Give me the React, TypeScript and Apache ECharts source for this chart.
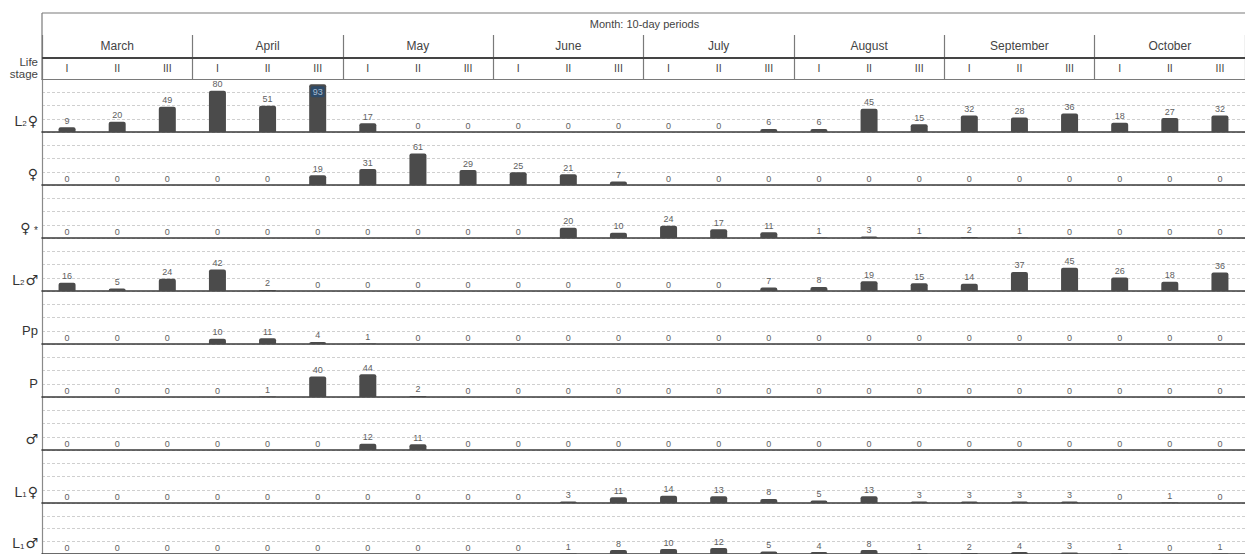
import React, { useEffect, useRef } from "react";
import * as echarts from "echarts";

const months = ["March", "April", "May", "June", "July", "August", "September", "October"];
const decades = ["I", "II", "III"];
const stageLabels = ["L₂♀", "♀", "♀ *", "L₂♂", "Pp", "P", "♂", "L₁♀", "L₁♂"];

const l2Female = [9, 20, 49, 80, 51, 93, 17, 0, 0, 0, 0, 0, 0, 0, 6, 6, 45, 15, 32, 28, 36, 18, 27, 32];
const female = [0, 0, 0, 0, 0, 19, 31, 61, 29, 25, 21, 7, 0, 0, 0, 0, 0, 0, 0, 0, 0, 0, 0, 0];
const femaleStar = [0, 0, 0, 0, 0, 0, 0, 0, 0, 0, 20, 10, 24, 17, 11, 1, 3, 1, 2, 1, 0, 0, 0, 0];
const l2Male = [16, 5, 24, 42, 2, 0, 0, 0, 0, 0, 0, 0, 0, 0, 7, 8, 19, 15, 14, 37, 45, 26, 18, 36];
const prepupa = [0, 0, 0, 10, 11, 4, 1, 0, 0, 0, 0, 0, 0, 0, 0, 0, 0, 0, 0, 0, 0, 0, 0, 0];
const pupa = [0, 0, 0, 0, 1, 40, 44, 2, 0, 0, 0, 0, 0, 0, 0, 0, 0, 0, 0, 0, 0, 0, 0, 0];
const male = [0, 0, 0, 0, 0, 0, 12, 11, 0, 0, 0, 0, 0, 0, 0, 0, 0, 0, 0, 0, 0, 0, 0, 0];
const l1Female = [0, 0, 0, 0, 0, 0, 0, 0, 0, 0, 3, 11, 14, 13, 8, 5, 13, 3, 3, 3, 3, 0, 1, 0];
const l1Male = [0, 0, 0, 0, 0, 0, 0, 0, 0, 0, 1, 8, 10, 12, 5, 4, 8, 1, 2, 4, 3, 1, 0, 1];

const rows = [l2Female, female, femaleStar, l2Male, prepupa, pupa, male, l1Female, l1Male];

const FONT = "'Liberation Sans', Arial, 'DejaVu Sans', sans-serif";

function toRich(label: string): string {
  return label
    .replace(" *", " {s|*}")
    .replace(/([♀♂])/g, "{g|$1}")
    .replace(/^L([₁₂])/, (_m, d) => "{a|L}{b|" + (d === "₁" ? "1" : "2") + "}");
}

export default function App() {
  const ref = useRef<HTMLDivElement>(null);

  useEffect(() => {
    if (!ref.current) return;
    const chart = echarts.init(ref.current, null, { renderer: "svg" });

    const LEFT = 42;
    const WIDTH = 1205;
    const HEADER_TOP = 35;
    const ROW_TOP = 79;
    const ROW_H = 53;
    const YMAX = 103;

    const cats: string[] = [];
    months.forEach((m) => decades.forEach((d) => cats.push(m + " " + d)));

    const grids: any[] = [];
    const xAxes: any[] = [];
    const yAxes: any[] = [];
    const series: any[] = [];

    rows.forEach((vals, i) => {
      grids.push({ left: LEFT, width: WIDTH, top: ROW_TOP + i * ROW_H, height: ROW_H });
      xAxes.push({
        type: "category",
        gridIndex: i,
        data: cats,
        position: "bottom",
        axisLine: { show: true, lineStyle: { color: "#3a3a3a", width: 1.6 } },
        axisTick: { show: false },
        axisLabel: { show: false },
        splitLine: { show: false },
      });
      const label = toRich(stageLabels[i]);
      yAxes.push({
        type: "value",
        gridIndex: i,
        min: 0,
        max: YMAX,
        interval: YMAX / 4,
        axisLine: { show: true, lineStyle: { color: "#8a8a8a", width: 1.2 } },
        axisTick: { show: false },
        axisLabel: {
          show: true,
          margin: 4,
          fontSize: 13,
          color: "#333",
          fontFamily: FONT,
          formatter: (v: number) => (v > 25 && v < 26 ? label : ""),
          rich: {
            a: { fontSize: 14, color: "#333", fontFamily: FONT, verticalAlign: "bottom", lineHeight: 18 },
            b: { fontSize: 8, color: "#333", fontFamily: FONT, verticalAlign: "bottom", lineHeight: 11, padding: [0, 1, 0, 0] },
            g: { fontSize: 14, color: "#333", fontFamily: "'DejaVu Sans', sans-serif", verticalAlign: "bottom", lineHeight: 18 },
            s: { fontSize: 10, color: "#333", fontFamily: FONT, verticalAlign: "bottom", lineHeight: 21 },
          },
        },
        splitLine: { show: true, lineStyle: { color: "#cfcfcf", type: [3, 2], width: 1 } },
      });
      series.push({
        type: "bar",
        xAxisIndex: i,
        yAxisIndex: i,
        barWidth: 17,
        data: vals.map((v) => {
          if (v > 85) {
            return {
              value: v,
              label: {
                position: "insideTop",
                distance: 2,
                backgroundColor: "#2d4a68",
                color: "#a8bdd3",
                padding: [1, 2],
                borderRadius: 2,
              },
            };
          }
          return v;
        }),
        itemStyle: { color: "#4b4b4b", borderRadius: [2, 2, 0, 0] },
        label: {
          show: true,
          position: "top",
          distance: 2,
          fontSize: 9,
          color: "#5e5e5e",
          fontFamily: FONT,
        },
        silent: true,
      });
    });

    // header grid
    const hi = rows.length;
    grids.push({ left: LEFT, width: WIDTH, top: HEADER_TOP, height: ROW_TOP - HEADER_TOP });
    xAxes.push({
      type: "category",
      gridIndex: hi,
      data: months,
      position: "top",
      axisLine: { show: true, lineStyle: { color: "#7a7a7a", width: 1.2 } },
      axisTick: { show: false },
      axisLabel: { show: true, inside: true, interval: 0, margin: 5, fontSize: 12, color: "#444", fontFamily: FONT },
      splitLine: { show: true, interval: 0, lineStyle: { color: "#7a7a7a", width: 1.2 } },
    });
    xAxes.push({
      type: "category",
      gridIndex: hi,
      data: cats,
      position: "bottom",
      axisLine: { show: true, lineStyle: { color: "#7a7a7a", width: 1.2 } },
      axisTick: { show: false },
      axisLabel: {
        show: true,
        inside: true,
        interval: 0,
        margin: 6,
        fontSize: 10.5,
        color: "#444",
        fontFamily: FONT,
        formatter: (v: string) => v.split(" ")[1],
      },
      splitLine: { show: false },
    });
    yAxes.push({ type: "value", gridIndex: hi, show: false, min: 0, max: 1 });

    const option: any = {
      animation: false,
      backgroundColor: "#ffffff",
      textStyle: { fontFamily: FONT },
      grid: grids,
      xAxis: xAxes,
      yAxis: yAxes,
      series,
      graphic: [
        { type: "line", shape: { x1: LEFT, y1: 13, x2: 1250, y2: 13 }, style: { stroke: "#7a7a7a", lineWidth: 1.2 }, z: 10 },
        { type: "line", shape: { x1: LEFT, y1: 13, x2: LEFT, y2: ROW_TOP }, style: { stroke: "#7a7a7a", lineWidth: 1.2 }, z: 10 },
        { type: "line", shape: { x1: LEFT, y1: 58, x2: 1250, y2: 58 }, style: { stroke: "#444", lineWidth: 1.8 }, z: 10 },
        {
          type: "text",
          x: LEFT + WIDTH / 2,
          y: 24,
          style: { text: "Month: 10-day periods", fontSize: 11, fill: "#444", align: "center", verticalAlign: "middle", fontFamily: FONT },
          z: 10,
        },
        {
          type: "text",
          x: 38,
          y: 68,
          style: {
            text: "Life\nstage",
            fontSize: 11.5,
            lineHeight: 12,
            fill: "#444",
            align: "right",
            verticalAlign: "middle",
            fontFamily: FONT,
          },
          z: 10,
        },
      ],
    };

    chart.setOption(option);
    return () => chart.dispose();
  }, []);

  return (
    <div
      ref={ref}
      style={{ position: "fixed", left: 0, top: 0, width: 1245, height: 554, background: "#fff" }}
    />
  );
}
